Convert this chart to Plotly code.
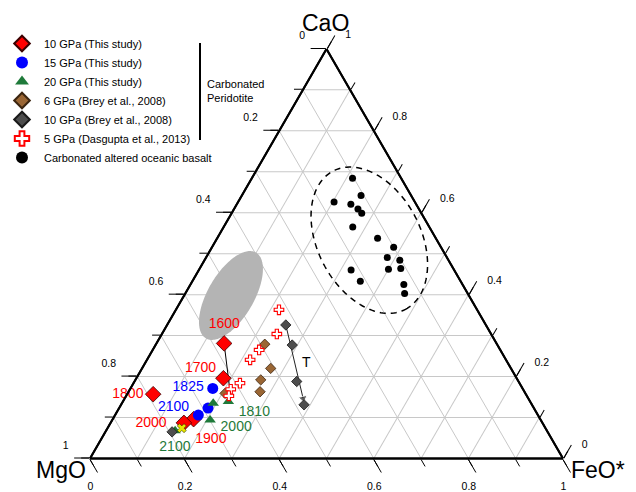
import math
import plotly.graph_objects as go

# ---------------- data: oxide fractions (CaO, MgO, FeO*) ----------------
# 10 GPa (This study)
gpa10_cao = [0.281, 0.196, 0.157, 0.096, 0.087]
gpa10_mgo = [0.576, 0.620, 0.788, 0.733, 0.758]
gpa10_feo = [0.143, 0.184, 0.055, 0.171, 0.155]
gpa10_temp = ["1600", "1700", "1800", "1900", "2000"]

# 15 GPa (This study)
gpa15_cao = [0.171, 0.123, 0.106]
gpa15_mgo = [0.655, 0.689, 0.718]
gpa15_feo = [0.174, 0.188, 0.176]
gpa15_temp = ["1825", "2100"]

# 20 GPa (This study)
gpa20_cao = [0.135, 0.139, 0.094, 0.068]
gpa20_mgo = [0.672, 0.638, 0.699, 0.786]
gpa20_feo = [0.193, 0.223, 0.207, 0.146]
gpa20_temp = ["1810", "2000", "2100"]

# 6 GPa (Brey et al., 2008)
brey6_cao = [0.279, 0.220, 0.192, 0.163, 0.159]
brey6_mgo = [0.491, 0.508, 0.543, 0.559, 0.635]
brey6_feo = [0.230, 0.272, 0.265, 0.278, 0.206]

# 10 GPa (Brey et al., 2008)
brey10_cao = [0.326, 0.277, 0.188, 0.131, 0.065]
brey10_mgo = [0.423, 0.434, 0.469, 0.482, 0.794]
brey10_feo = [0.251, 0.289, 0.343, 0.387, 0.141]

# 5 GPa (Dasgupta et al., 2013)
dasg5_cao = [0.363, 0.304, 0.265, 0.241, 0.184, 0.169, 0.153]
dasg5_mgo = [0.419, 0.453, 0.510, 0.541, 0.591, 0.618, 0.630]
dasg5_feo = [0.218, 0.243, 0.225, 0.218, 0.225, 0.213, 0.217]

# Carbonated altered oceanic basalt
basalt_cao = [0.684, 0.642, 0.626, 0.621, 0.609, 0.599, 0.565, 0.538, 0.516,
              0.491, 0.484, 0.464, 0.462, 0.460, 0.433, 0.425, 0.405]
basalt_mgo = [0.103, 0.106, 0.171, 0.138, 0.129, 0.126, 0.162, 0.123, 0.100,
              0.126, 0.103, 0.111, 0.138, 0.218, 0.212, 0.124, 0.134]
basalt_feo = [0.213, 0.252, 0.203, 0.241, 0.262, 0.275, 0.273, 0.339, 0.384,
              0.383, 0.413, 0.425, 0.400, 0.322, 0.355, 0.451, 0.466]

# other small features
yellow_cao = [0.074]
yellow_mgo = [0.769]
yellow_feo = [0.157]
tie_end = (0.174, 0.618, 0.208)          # end of line from the 1600 point
trend_end = (0.147, 0.476, 0.377)        # arrow tip of Brey 10 GPa trend

# temperature label anchors (CaO, MgO, FeO*)
lab10_cao = [0.328, 0.219, 0.156, 0.047, 0.086]
lab10_mgo = [0.552, 0.657, 0.842, 0.721, 0.828]
lab10_feo = [0.120, 0.124, 0.002, 0.232, 0.086]
lab15_cao = [0.173, 0.125]
lab15_mgo = [0.706, 0.761]
lab15_feo = [0.121, 0.114]
lab20_cao = [0.113, 0.076, 0.027]
lab20_mgo = [0.596, 0.653, 0.807]
lab20_feo = [0.291, 0.271, 0.166]
labT = (0.232, 0.427, 0.341)

# ellipses: centre (CaO, FeO*), semi-axes (fraction of side), angle (deg)
gray_ell = dict(cao=0.398, feo=0.099, a=0.105, b=0.0486, ang=59.7)
dash_ell = dict(cao=0.533, feo=0.324, a=0.165, b=0.109, ang=-62.4)

TICK_MINOR = [round(0.1 * i, 1) for i in range(11)]
TICK_MAJOR = [0, 0.2, 0.4, 0.6, 0.8, 1.0]
TICK_TEXT = ["1", "0.8", "0.6", "0.4", "0.2", "0"]

RED = "#ff0000"
BLUE = "#0000ff"
GREEN = "#1f7a3a"
BROWN = "#9a6634"
DGRAY = "#4d4d4d"
FONT = "Liberation Sans, Arial, sans-serif"

W, H = 636, 492
TRI_X = (90, 563)       # pixel x of the bottom corners
TRI_Y = (48.9, 458.5)   # pixel y of apex and base


def ellipse(p, n=160):
    s3 = math.sqrt(3) / 2
    x0 = p["feo"] + p["cao"] / 2
    y0 = p["cao"] * s3
    th = math.radians(p["ang"])
    ca, mg, fe = [], [], []
    for i in range(n + 1):
        t = 2 * math.pi * i / n
        x = x0 + p["a"] * math.cos(t) * math.cos(th) - p["b"] * math.sin(t) * math.sin(th)
        y = y0 + p["a"] * math.cos(t) * math.sin(th) + p["b"] * math.sin(t) * math.cos(th)
        c = y / s3
        f = x - c / 2
        ca.append(c)
        fe.append(f)
        mg.append(1 - c - f)
    return ca, mg, fe


def domain(dx=0.0, dy=0.0):
    return dict(x=[(TRI_X[0] + dx) / W, (TRI_X[1] + dx) / W],
                y=[(H - TRI_Y[1] - dy) / H, (H - TRI_Y[0] - dy) / H])


fig = go.Figure()

# gray field
ea, eb, ec = ellipse(gray_ell)
fig.add_trace(go.Scatterternary(a=ea, b=eb, c=ec, mode="lines", fill="toself",
                                fillcolor="#b4b4b4", line=dict(color="#b4b4b4", width=0),
                                showlegend=False, hoverinfo="skip"))
# dashed field
ea, eb, ec = ellipse(dash_ell)
fig.add_trace(go.Scatterternary(a=ea, b=eb, c=ec, mode="lines",
                                line=dict(color="black", width=1.5, dash="6px,5px"),
                                showlegend=False, hoverinfo="skip"))

# tie line from 1600 point
fig.add_trace(go.Scatterternary(a=[gpa10_cao[0], tie_end[0]], b=[gpa10_mgo[0], tie_end[1]],
                                c=[gpa10_feo[0], tie_end[2]], mode="lines",
                                line=dict(color="black", width=1), showlegend=False,
                                hoverinfo="skip"))
# Brey 10 GPa trend arrow
fig.add_trace(go.Scatterternary(a=[brey10_cao[0], trend_end[0]], b=[brey10_mgo[0], trend_end[1]],
                                c=[brey10_feo[0], trend_end[2]], mode="lines+markers",
                                line=dict(color="#222222", width=1),
                                marker=dict(symbol=["circle", "triangle-down"], size=[0, 8],
                                            angle=[0, -13], color="#222222"),
                                showlegend=False, hoverinfo="skip"))

dia_line = dict(color="#3a0000", width=0.8)
fig.add_trace(go.Scatterternary(a=gpa10_cao, b=gpa10_mgo, c=gpa10_feo, mode="markers",
                                name="10 GPa (This study)", cliponaxis=False,
                                marker=dict(symbol="diamond", size=12, color=RED, line=dia_line)))
fig.add_trace(go.Scatterternary(a=gpa15_cao, b=gpa15_mgo, c=gpa15_feo, mode="markers",
                                name="15 GPa (This study)", cliponaxis=False,
                                marker=dict(symbol="circle", size=11, color=BLUE)))
fig.add_trace(go.Scatterternary(a=gpa20_cao, b=gpa20_mgo, c=gpa20_feo, mode="markers",
                                name="20 GPa (This study)", cliponaxis=False,
                                marker=dict(symbol="triangle-up", size=10, color=GREEN)))
fig.add_trace(go.Scatterternary(a=brey6_cao, b=brey6_mgo, c=brey6_feo, mode="markers",
                                name="6 GPa (Brey et al., 2008)",
                                marker=dict(symbol="diamond", size=8, color=BROWN,
                                            line=dict(color="#3b2510", width=0.8))))
fig.add_trace(go.Scatterternary(a=brey10_cao, b=brey10_mgo, c=brey10_feo, mode="markers",
                                name="10 GPa (Brey et al., 2008)",
                                marker=dict(symbol="diamond", size=8, color=DGRAY,
                                            line=dict(color="#1a1a1a", width=0.8))))
fig.add_trace(go.Scatterternary(a=dasg5_cao, b=dasg5_mgo, c=dasg5_feo, mode="markers",
                                name="5 GPa (Dasgupta et al., 2013)",
                                marker=dict(symbol="cross", size=8, color="white",
                                            line=dict(color=RED, width=1.1))))
fig.add_trace(go.Scatterternary(a=basalt_cao, b=basalt_mgo, c=basalt_feo, mode="markers",
                                name="Carbonated altered oceanic basalt",
                                marker=dict(symbol="circle", size=7, color="black")))
fig.add_trace(go.Scatterternary(a=yellow_cao, b=yellow_mgo, c=yellow_feo, mode="markers",
                                showlegend=False,
                                marker=dict(symbol="x", size=8, color="#e6e600",
                                            line=dict(color="#333300", width=0.6))))

# temperature labels
for ca, mg, fe, txt, col in [(lab10_cao, lab10_mgo, lab10_feo, gpa10_temp, RED),
                             (lab15_cao, lab15_mgo, lab15_feo, gpa15_temp, BLUE),
                             (lab20_cao, lab20_mgo, lab20_feo, gpa20_temp, GREEN),
                             ([labT[0]], [labT[1]], [labT[2]], ["T"], "black")]:
    fig.add_trace(go.Scatterternary(a=ca, b=mg, c=fe, mode="text", text=txt,
                                    textposition="middle center", cliponaxis=False,
                                    textfont=dict(color=col, size=14, family=FONT),
                                    showlegend=False, hoverinfo="skip"))


def grid_axis():
    return dict(min=0, tickvals=TICK_MINOR, ticks="outside", ticklen=8, tickwidth=1.3,
                tickcolor="black", showticklabels=False, showgrid=True,
                gridcolor="#c8c8c8", gridwidth=1, linecolor="black", linewidth=2,
                title=dict(text=""))


def major_axis():
    return dict(min=0, tickvals=TICK_MAJOR, ticks="outside", ticklen=15, tickwidth=1.3,
                tickcolor="black", showticklabels=False, showgrid=False,
                linecolor="black", linewidth=2, title=dict(text=""))


def text_axis(show):
    if not show:
        return dict(min=0, showticklabels=False, ticks="", showgrid=False,
                    showline=False, title=dict(text=""))
    return dict(min=0, tickmode="array", tickvals=TICK_MAJOR, ticktext=TICK_TEXT,
                ticks="outside", ticklen=15, tickcolor="rgba(0,0,0,0)",
                tickfont=dict(size=10.5, color="black", family=FONT), showgrid=False,
                showline=False, title=dict(text=""))


def label_ternary(which, dx, dy):
    return dict(sum=1, domain=domain(dx, dy), bgcolor="rgba(0,0,0,0)",
                aaxis=text_axis(which == "a"), baxis=text_axis(which == "b"),
                caxis=text_axis(which == "c"))


def corner(text, x, y, xanchor):
    return dict(text=text, xref="paper", yref="paper", x=x / W, y=1 - y / H,
                xanchor=xanchor, yanchor="middle", showarrow=False,
                font=dict(size=23, color="black", family=FONT))


fig.update_layout(
    width=W, height=H,
    margin=dict(l=0, r=0, t=0, b=0),
    paper_bgcolor="white",
    font=dict(family=FONT, color="black"),
    ternary=dict(sum=1, domain=domain(), bgcolor="white",
                 aaxis=grid_axis(), baxis=grid_axis(), caxis=grid_axis()),
    ternary2=dict(sum=1, domain=domain(), bgcolor="rgba(0,0,0,0)",
                  aaxis=major_axis(), baxis=major_axis(), caxis=major_axis()),
    ternary3=label_ternary("a", -4, -12),
    ternary4=label_ternary("b", -7, 4),
    ternary5=label_ternary("c", 9, 0),
    legend=dict(x=0, y=1 - 29 / H, xanchor="left", yanchor="top",
                bgcolor="rgba(0,0,0,0)", itemwidth=34,
                font=dict(size=11, family=FONT, color="black"), itemsizing="constant",
                tracegroupgap=0),
    shapes=[dict(type="line", xref="paper", yref="paper", x0=200 / W, x1=200 / W,
                 y0=1 - 43 / H, y1=1 - 140 / H, line=dict(color="black", width=2))],
    annotations=[dict(text="Carbonated<br>Peridotite", xref="paper", yref="paper",
                      x=205 / W, y=1 - 91 / H, xanchor="left", yanchor="middle",
                      align="left", showarrow=False,
                      font=dict(size=11, color="black", family=FONT)),
                 corner("CaO", 325, 23.5, "center"),
                 corner("MgO", 88, 470, "right"),
                 corner("FeO*", 569, 470, "left")],
)

# empty traces so that the overlay ternaries exist
for sp in ["ternary2", "ternary3", "ternary4", "ternary5"]:
    fig.add_trace(go.Scatterternary(a=[None], b=[None], c=[None], subplot=sp,
                                    showlegend=False, hoverinfo="skip"))

fig.write_html("out.html", config={"displayModeBar": False},
               post_script="document.body.style.margin='0';"
                           "document.body.style.overflow='hidden';")
